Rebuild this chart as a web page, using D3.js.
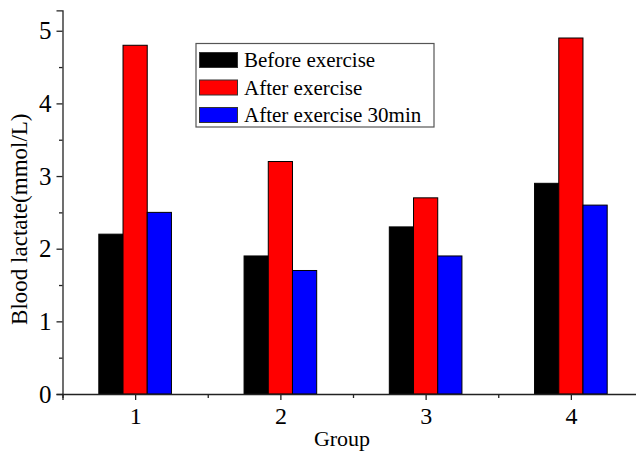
<!DOCTYPE html>
<html lang="en">
<head>
<meta charset="UTF-8">
<title>Blood lactate</title>
<script src="https://d3js.org/d3.v7.min.js"></script>
<style>
  body { margin: 0; background: #fff; }
  svg text { font-family: "Liberation Serif", "Times New Roman", serif; fill: #000; }
</style>
</head>
<body>
<div id="viz"></div>
<script>
// data
var groups = [1, 2, 3, 4];
var seriesNames = ["Before exercise", "After exercise", "After exercise 30min"];
var beforeExercise = [2.2, 1.9, 2.3, 2.9];
var afterExercise = [4.8, 3.2, 2.7, 4.9];
var after30min = [2.5, 1.7, 1.9, 2.6];
var yTicks = [0, 1, 2, 3, 4, 5];
var colors = ["#000000", "#ff0000", "#0000ff"];

var series = [beforeExercise, afterExercise, after30min];

var w = 636, h = 452;
var svg = d3.select("#viz").append("svg")
    .attr("width", w)
    .attr("height", h);

var x = d3.scaleLinear().domain([0.5, 4.5]).range([62.5, 643.5]);
var y = d3.scaleLinear().domain([0, 5.28]).range([394, 10.4]);

var groupWidth = 0.5;
var barW = groupWidth / series.length;

// bars
series.forEach(function(vals, si) {
    svg.append("g").selectAll("rect")
        .data(vals)
        .enter().append("rect")
        .attr("x", function(d, i) { return x(groups[i] - groupWidth / 2 + si * barW); })
        .attr("width", function(d, i) { return x(groups[i] + barW) - x(groups[i]); })
        .attr("y", function(d) { return y(d); })
        .attr("height", function(d) { return y(0) - y(d); })
        .attr("fill", colors[si])
        .attr("stroke", "#000")
        .attr("stroke-width", 1);
});

// y axis
var yAxis = svg.append("g")
    .attr("transform", "translate(" + x(0.5) + ",0)")
    .call(d3.axisLeft(y).tickValues(yTicks).tickSize(6).tickPadding(5).tickFormat(d3.format("d")));
yAxis.selectAll("text").style("font-size", "25px");
svg.append("g")
    .attr("transform", "translate(" + x(0.5) + ",0)")
    .call(d3.axisLeft(y).tickValues(d3.range(0.5, 5.5, 1)).tickSize(3.5).tickFormat(""))
    .select(".domain").remove();

// x axis
var xAxis = svg.append("g")
    .attr("transform", "translate(0," + y(0) + ")")
    .call(d3.axisBottom(x).tickValues(groups).tickSize(6).tickPadding(7).tickFormat(d3.format("d")));
xAxis.selectAll("text").style("font-size", "24px");
svg.append("g")
    .attr("transform", "translate(0," + y(0) + ")")
    .call(d3.axisBottom(x).tickValues([0.5, 1.5, 2.5, 3.5, 4.5]).tickSize(4).tickFormat(""))
    .select(".domain").remove();

svg.selectAll(".domain, .tick line").attr("stroke", "#222").attr("stroke-width", 1.3);

// axis titles
svg.append("text")
    .attr("transform", "translate(27," + ((y(0) + y(5.28)) / 2 + 17) + ") rotate(-90)")
    .attr("text-anchor", "middle")
    .style("font-size", "23px")
    .text("Blood lactate(mmol/L)");

svg.append("text")
    .attr("x", 342)
    .attr("y", 446)
    .attr("text-anchor", "middle")
    .style("font-size", "22px")
    .text("Group");

// legend
var legend = svg.append("g").attr("transform", "translate(196,43.5)");
legend.append("rect")
    .attr("width", 238)
    .attr("height", 83.5)
    .attr("fill", "#fff")
    .attr("stroke", "#555")
    .attr("stroke-width", 1.2);
var item = legend.selectAll("g.item")
    .data(seriesNames)
    .enter().append("g")
    .attr("class", "item")
    .attr("transform", function(d, i) { return "translate(0," + (16.5 + i * 27.5) + ")"; });
item.append("rect")
    .attr("x", 3.5)
    .attr("y", -7.5)
    .attr("width", 38)
    .attr("height", 15)
    .attr("fill", function(d, i) { return colors[i]; })
    .attr("stroke", "#333")
    .attr("stroke-width", 1);
item.append("text")
    .attr("x", 48)
    .attr("y", 7)
    .style("font-size", "21px")
    .text(function(d) { return d; });
</script>
</body>
</html>
